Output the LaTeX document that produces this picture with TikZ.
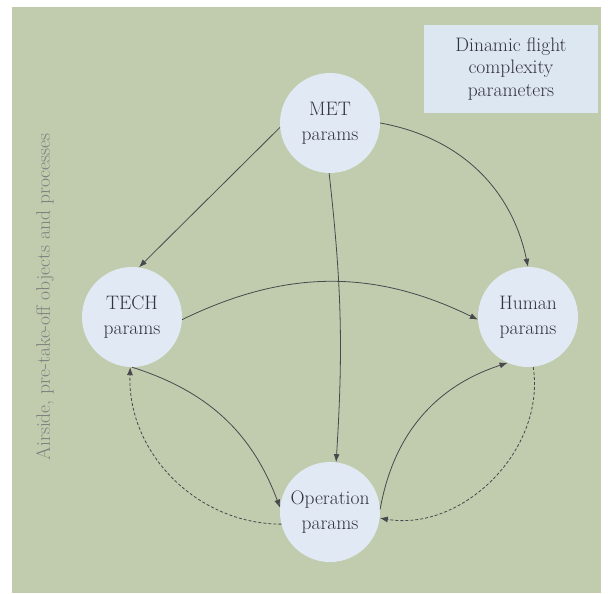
\documentclass[tikz,border=0pt]{standalone}
\usepackage{xcolor}
\usepackage{tikz}
\usetikzlibrary{arrows.meta}
\definecolor{fondo}{RGB}{192,204,173}
\definecolor{burbuja}{RGB}{225,234,244}
\definecolor{caja}{RGB}{221,231,241}
\definecolor{tinta}{RGB}{50,50,64}
\definecolor{linea}{RGB}{72,72,78}
\tikzset{
  param/.style={circle, fill=burbuja, minimum size=100pt, inner sep=0pt,
    align=center, text=tinta, font=\fontsize{19.5}{25}\selectfont},
  conn/.style={->, draw=linea, line width=0.8pt},
  dconn/.style={conn, dash pattern=on 3pt off 2pt},
  >={Latex[length=8pt,width=6pt]}
}

\begin{document}
\begin{tikzpicture}[x=1pt,y=1pt]
  \useasboundingbox (0,0) rectangle (608,-594);
  \fill[fondo] (12,-7) rectangle (601,-593);
  \node[fill=caja, minimum width=174pt, minimum height=88pt, align=center,
    text=tinta, font=\fontsize{19.5}{22.5}\selectfont] (titulo) at (511,-69)
    {Dinamic flight\\complexity\\parameters};
  \node[rotate=90, text=gray, font=\fontsize{19.5}{22}\selectfont] (lado) at (45,-297)
    {Airside, pre-take-off objects and processes};
  \node[param] (met)   at (330,-123) {MET\\params};
  \node[param] (tech)  at (132,-317) {TECH\\params};
  \node[param] (human) at (528,-317) {Human\\params};
  \node[param] (op)    at (330,-512) {Operation\\params};
  \draw[conn]  (met.185)   to (tech.82);
  \draw[conn]  (met.0)     to[bend left=34] (human.90);
  \draw[conn]  (met.269)   to[bend left=5]  (op.83);
  \draw[conn]  (tech.357)  to[bend left=26] (human.183);
  \draw[conn]  (tech.270)  to[bend left=26] (op.175);
  \draw[dconn] (op.194)    to[bend left=46] (tech.268);
  \draw[conn]  (op.3)      to[bend left=31] (human.246);
  \draw[dconn] (human.276) to[bend left=54] (op.353);
\end{tikzpicture}
\end{document}
